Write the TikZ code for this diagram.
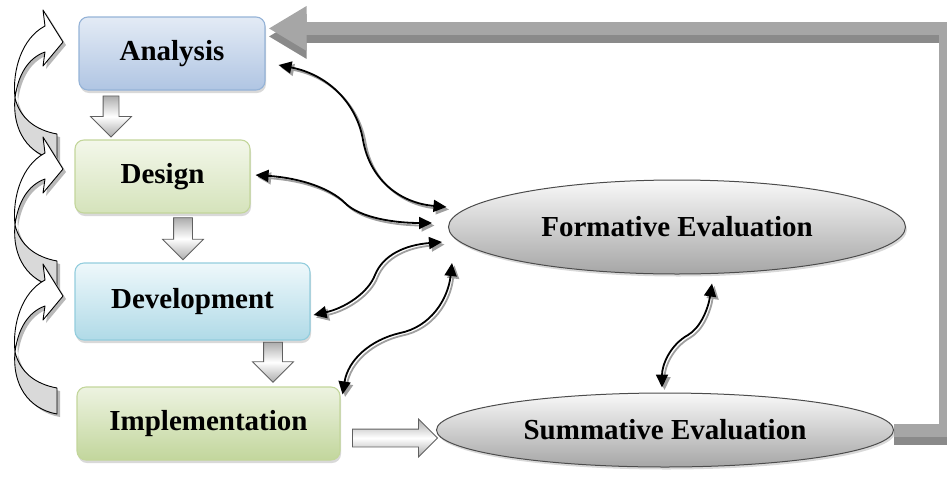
\documentclass[tikz,border=0pt]{standalone}
\usepackage{fontspec}
\setmainfont{Liberation Serif}
\usetikzlibrary{shapes.geometric,shapes.arrows,arrows.meta,shadows,calc,backgrounds}
\definecolor{anaTop}{HTML}{E3EBF5}
\definecolor{anaBot}{HTML}{B0C5E3}
\definecolor{anaBd}{HTML}{95B3D7}
\definecolor{desTop}{HTML}{F3F7EA}
\definecolor{desBot}{HTML}{D5E3BB}
\definecolor{desBd}{HTML}{C3D69B}
\definecolor{devTop}{HTML}{EEF8FB}
\definecolor{devBot}{HTML}{B0DAE7}
\definecolor{devBd}{HTML}{93CDDD}
\definecolor{impTop}{HTML}{EDF3E1}
\definecolor{impBot}{HTML}{C2D69C}
\definecolor{fbLight}{HTML}{A6A6A6}
\definecolor{fbDark}{HTML}{8A8A8A}
\newcommand\curvedleft[1]{%
  \begin{scope}[shift={(0,#1)}]
    \begin{scope}[shift={(3,3)}]
      \fill[gray!55] (45,26) .. controls (22,38) and (12,70) .. (15,98) .. controls (18,75) and (28,58) .. (45,52) -- (43,66) -- (63,42) -- (43,10) -- cycle;
      \fill[gray!55] (15,98) .. controls (20,118) and (35,130) .. (57,134) -- (57,160) .. controls (28,155) and (12,130) .. (15,98) -- cycle;
    \end{scope}
    \filldraw[fill=white, draw=black, line width=0.9pt, line join=round] (45,26) .. controls (22,38) and (12,70) .. (15,98) .. controls (18,75) and (28,58) .. (45,52) -- (43,66) -- (63,42) -- (43,10) -- cycle;
    \filldraw[fill=gray!30, draw=black, line width=0.9pt, line join=round] (15,98) .. controls (20,118) and (35,130) .. (57,134) -- (57,160) .. controls (28,155) and (12,130) .. (15,98) -- cycle;
  \end{scope}}
\begin{document}
\begin{tikzpicture}[x=1pt,y=-1pt,
  box/.style={rectangle, rounded corners=9pt, line width=1.1pt, inner sep=0pt,
    font=\fontsize{29}{34}\selectfont\bfseries,
    drop shadow={shadow xshift=1pt, shadow yshift=-3pt, opacity=0.3}},
  evalnode/.style={ellipse, draw=gray!60!black, line width=1pt, inner sep=0pt,
    top color=white!95!gray, bottom color=gray!70, minimum width=457pt,
    font=\fontsize{29}{34}\selectfont\bfseries,
    drop shadow={shadow xshift=1.5pt, shadow yshift=-2.5pt, opacity=0.3}},
  blockarr/.style={single arrow, draw=gray!75!black, line width=0.8pt,
    top color=gray!65, bottom color=gray!65, middle color=white,
    single arrow head indent=0pt, inner xsep=0pt},
  tipA/.tip={Triangle[length=13pt,width=12pt]},
  conn/.style={line width=1.8pt, black, tipA-tipA,
    preaction={draw=gray!75, line width=1.8pt, tipA-tipA, transform canvas={shift={(2.5pt,-2.5pt)}}}},
  fb/.style={line width=13pt, line join=miter, -{Triangle[length=38pt,width=42pt]}}
]
\useasboundingbox (0,0) rectangle (947,477);

% boxes
\node[box, draw=anaBd, top color=anaTop, bottom color=anaBot, minimum width=186pt, minimum height=73pt] (A) at (172,53.5) {Analysis};
\node[box, draw=desBd, top color=desTop, bottom color=desBot, minimum width=175pt, minimum height=73pt] (D) at (162.5,176.5) {Design};
\node[box, draw=devBd, top color=devTop, bottom color=devBot, minimum width=235pt, minimum height=77pt] (V) at (192.5,301.5) {Development};
\node[box, draw=desBd, top color=impTop, bottom color=impBot, minimum width=263pt, minimum height=73pt] (I) at (208.5,423.5) {Implementation};

% ellipses
\node[evalnode, minimum height=94pt] (form) at (677,227) {Formative Evaluation};
\node[evalnode, minimum height=74pt] (summ) at (665,430) {Summative Evaluation};

% feedback arrow (behind everything)
\coordinate (fbtip) at ($(A.north east)+(3,12)$);
\begin{pgfonlayer}{background}
\draw[fb, draw=fbDark, transform canvas={yshift=-8pt}] (summ.east) -- ++(51,0) |- (fbtip);
\draw[fb, draw=fbLight] (summ.east) -- ++(51,0) |- (fbtip);
\end{pgfonlayer}

% left curved arrows
\curvedleft{0}
\curvedleft{127}
\curvedleft{254}

% block arrows
\node[blockarr, rotate=-90, minimum height=41pt, inner ysep=7.5pt, single arrow head extend=12.5pt] (ad) at (111,112.5) {};
\node[blockarr, rotate=-90, minimum height=42pt, inner ysep=9pt, single arrow head extend=11pt] (dv) at (183,234) {};
\node[blockarr, rotate=-90, minimum height=40pt, inner ysep=9pt, single arrow head extend=11pt] (vi) at (273,357.5) {};
\node[blockarr, minimum height=85pt, inner ysep=8.5pt, single arrow head extend=10pt] (is) at (390.5,438) {};

% wavy connectors
\draw[conn] ($(A.east)+(13,11.5)$) .. controls (330,75) and (357,105) .. (363,140) .. controls (370,180) and (400,203) .. ($(form.west)+(-1.5,-20)$);
\draw[conn] ($(D.east)+(5,-1.5)$) .. controls (300,178) and (330,188) .. (345,203) .. controls (360,218) and (395,223) .. ($(form.west)+(-16,-4)$);
\draw[conn] ($(V.east)+(3,13.5)$) .. controls (345,308) and (368,293) .. (375,275) .. controls (383,255) and (405,245) .. ($(form.west)+(-6,15)$);
\draw[conn] ($(I.north east)+(2,8)$) .. controls (348,360) and (370,340) .. (400,333) .. controls (430,327) and (448,300) .. ($(form.west)+(4,36)$);
\draw[conn] ($(form.south)+(35,9)$) .. controls (708,310) and (700,328) .. (688,335) .. controls (670,345) and (662,365) .. ($(summ.north)+(-3,-5)$);
\end{tikzpicture}
\end{document}
